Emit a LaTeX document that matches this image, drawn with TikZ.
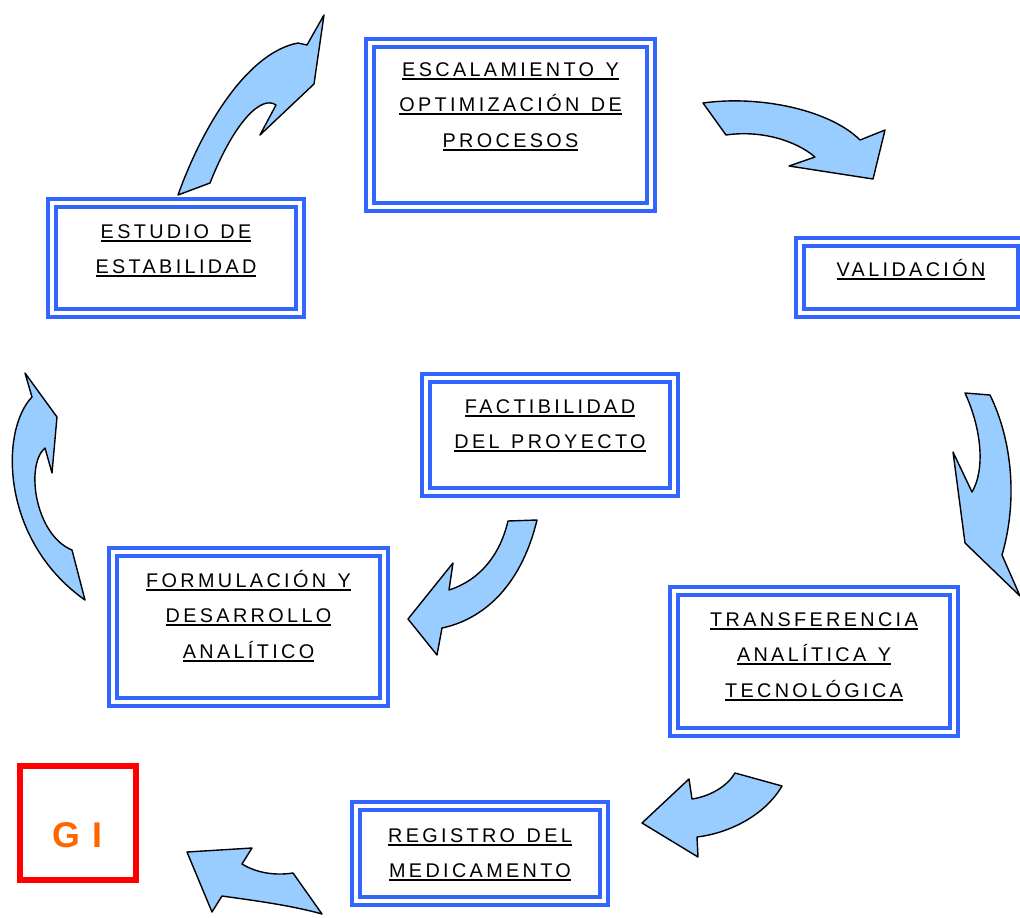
\documentclass[tikz,border=0pt]{standalone}
\usepackage{fontspec}
\setmainfont{Liberation Sans}
\newfontfamily\boxfont[LetterSpace=17,WordSpace=1.3]{Liberation Sans}
\newfontfamily\gifont[LetterSpace=5]{Liberation Sans}
\definecolor{boxblue}{RGB}{51,102,255}
\definecolor{arrowfill}{RGB}{153,204,255}
\definecolor{giorange}{RGB}{255,102,0}
\definecolor{gired}{RGB}{255,0,0}
\newsavebox\ulbox
\newcommand\ulline[1]{\sbox\ulbox{#1}\rlap{\rule[-3.7pt]{\wd\ulbox}{2.1pt}}\raisebox{0pt}[14pt][4pt]{\usebox\ulbox}}
\tikzset{
  bluebox/.style={rectangle, draw=boxblue, double=white, line width=3.8pt, double distance=4pt, inner sep=0pt, outer sep=0pt},
  boxtext/.style={font=\boxfont\fontsize{19.8pt}{35.5pt}\selectfont, align=center, inner sep=0pt, anchor=north},
  blockarrow/.style={draw=black, fill=arrowfill, line width=1.4pt, line join=round},
  redbox/.style={rectangle, draw=gired, line width=6pt, inner sep=0pt, outer sep=0pt}
}
\begin{document}
\begin{tikzpicture}[x=1pt,y=-1pt]
\path[use as bounding box] (0,0) rectangle (1020,918);
\clip (0,0) rectangle (1020,918);
% boxes
\node[bluebox, minimum width=281pt, minimum height=164pt] (b1) at (510.5,125) {};
\node[bluebox, minimum width=222pt, minimum height=71pt] (b2) at (911,277.5) {};
\node[bluebox, minimum width=248pt, minimum height=110pt] (b3) at (176,258) {};
\node[bluebox, minimum width=248pt, minimum height=114pt] (b4) at (550,435) {};
\node[bluebox, minimum width=271pt, minimum height=150pt] (b5) at (248.5,627) {};
\node[bluebox, minimum width=280pt, minimum height=141pt] (b6) at (814,661.5) {};
\node[bluebox, minimum width=248pt, minimum height=95pt] (b7) at (480,853.5) {};
\node[redbox, minimum width=116pt, minimum height=113.4pt] (b8) at (78.3,823) {};
% texts
\node[boxtext] (t1) at (510.5,62) {\ulline{ESCALAMIENTO Y}\\\ulline{OPTIMIZACIÓN DE}\\\ulline{PROCESOS}};
\node[boxtext] (t2) at (911,262) {\ulline{VALIDACIÓN}};
\node[boxtext] (t3) at (176,224) {\ulline{ESTUDIO DE}\\\ulline{ESTABILIDAD}};
\node[boxtext] (t4) at (550,399) {\ulline{FACTIBILIDAD}\\\ulline{DEL PROYECTO}};
\node[boxtext] (t5) at (248.5,573) {\ulline{FORMULACIÓN Y}\\\ulline{DESARROLLO}\\\ulline{ANALÍTICO}};
\node[boxtext] (t6) at (814,612) {\ulline{TRANSFERENCIA}\\\ulline{ANALÍTICA Y}\\\ulline{TECNOLÓGICA}};
\node[boxtext] (t7) at (480,828) {\ulline{REGISTRO DEL}\\\ulline{MEDICAMENTO}};
\node[font=\gifont\bfseries\fontsize{35.8pt}{40pt}\selectfont, text=giorange, inner sep=0pt, anchor=base] (gi) at (77.5,847.3) {G I};
% arrows
\path[blockarrow] (178,195) .. controls (205,120) and (250,52) .. (298,43) -- (307,45) -- (324,15) -- (314,84) -- (260,135) -- (276,105) .. controls (262,95) and (235,120) .. (210,183) -- cycle;
\path[blockarrow] (703,103) .. controls (760,95) and (830,110) .. (860,140) -- (885,130) -- (873,179) -- (789,166) -- (815,157) .. controls (795,140) and (760,130) .. (726,135) -- cycle;
\path[blockarrow] (965,393) -- (990,395) .. controls (1012,440) and (1018,500) .. (1002,555) -- (1020,596) -- (965,543) -- (953,452) -- (972,492) .. controls (985,470) and (982,430) .. (965,393) -- cycle;
\path[blockarrow] (25,373) -- (32,397) .. controls (0,430) and (0,540) .. (85,600) -- (72,550) .. controls (35,535) and (25,465) .. (45,448) -- (52,473) -- (57,417) -- cycle;
\path[blockarrow] (508,521) -- (537,520) .. controls (520,590) and (480,620) .. (442,628) -- (437,655) -- (408,619) -- (453,563) -- (449,590) .. controls (480,580) and (500,555) .. (508,521) -- cycle;
\path[blockarrow] (735,773) -- (782,786) .. controls (765,815) and (730,833) .. (697,837) -- (698,857) -- (642,823) -- (689,779) -- (692,799) .. controls (712,796) and (728,785) .. (735,773) -- cycle;
\path[blockarrow] (187,852) -- (252,848) -- (242,864) .. controls (260,875) and (280,875) .. (293,873) -- (322,914) .. controls (290,905) and (250,900) .. (222,896) -- (212,912) -- cycle;
\end{tikzpicture}
\end{document}
